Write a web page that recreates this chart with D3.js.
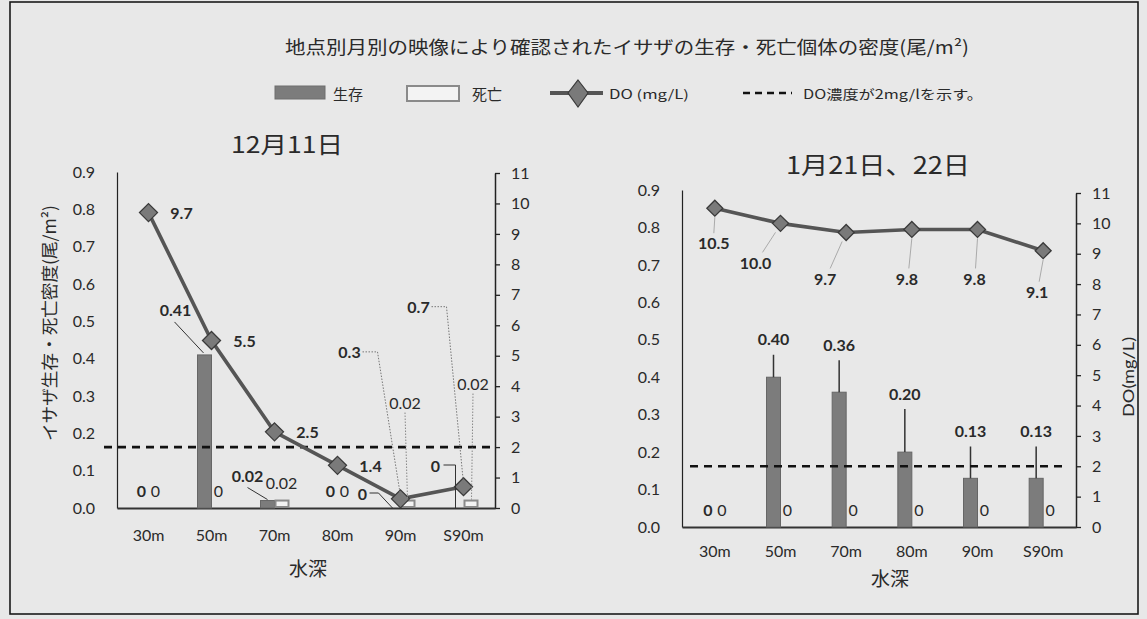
<!DOCTYPE html>
<html><head><meta charset="utf-8">
<script src="https://cdn.jsdelivr.net/npm/d3@7"></script>
<style>
html,body{margin:0;padding:0;background:#e8e8e8;}
svg{display:block;}
text{font-family:Lato,"Noto Sans CJK JP",sans-serif;fill:#2a2a2a;}
.jp{font-family:"Noto Sans CJK JP",sans-serif;}
</style></head><body>
<svg id="chart" width="1147" height="619"></svg>
<script>
// ---------- data ----------
const depths = ["30m","50m","70m","80m","90m","S90m"];
const decAlive = [0, 0.41, 0.02, 0, 0, 0];
const decDead  = [0, 0, 0.02, 0, 0.02, 0.02];
const decDO    = [9.7, 5.5, 2.5, 1.4, 0.3, 0.7];
const janAlive    = [0, 0.40, 0.36, 0.20, 0.13, 0.13];
const janAliveErr = [0, 0.06, 0.085, 0.115, 0.085, 0.085];
const janDead     = [0, 0, 0, 0, 0, 0];
const janDO       = [10.5, 10.0, 9.7, 9.8, 9.8, 9.1];
const densityTicks = [0,0.1,0.2,0.3,0.4,0.5,0.6,0.7,0.8,0.9];
const doTicks = [0,1,2,3,4,5,6,7,8,9,10,11];
const doThreshold = 2;
const chartTitle = "地点別月別の映像により確認されたイサザの生存・死亡個体の密度(尾/m²)";
const panelTitles = ["12月11日", "1月21日、22日"];
const legendLabels = ["生存", "死亡", "DO (mg/L)", "DO濃度が2mg/lを示す。"];
const yTitle = "イサザ生存・死亡密度(尾/m²)";
const y2Title = "DO(mg/L)";
const xTitle = "水深";

// ---------- styles ----------
const C = {
  aliveFill:"#7c7c7c", aliveStroke:"#666", deadFill:"#f3f3f3", deadStroke:"#8a8a8a",
  line:"#555", diamondFill:"#7a7a7a", diamondStroke:"#3a3a3a", axis:"#333"
};

const svg = d3.select("#chart");
svg.append("rect").attr("x",0).attr("y",0).attr("width",1147).attr("height",619).attr("fill","#e8e8e8");
svg.append("rect").attr("x",10).attr("y",2).attr("width",1128).attr("height",612)
  .attr("fill","none").attr("stroke","#1a1a1a").attr("stroke-width",1.6);

// title
svg.append("text").attr("class","jp").attr("x",627).attr("y",46).attr("text-anchor","middle")
  .attr("dominant-baseline","central").attr("font-size",18).attr("textLength",684).attr("lengthAdjust","spacingAndGlyphs")
  .text(chartTitle);

// legend
const lg = svg.append("g");
lg.append("rect").attr("x",275).attr("y",86).attr("width",50).attr("height",13).attr("fill",C.aliveFill).attr("stroke","#6e6e6e");
lg.append("text").attr("class","jp").attr("x",333).attr("y",93).attr("dominant-baseline","central").attr("font-size",15).text(legendLabels[0]);
lg.append("rect").attr("x",407).attr("y",86).attr("width",52).attr("height",15).attr("fill",C.deadFill).attr("stroke",C.deadStroke).attr("stroke-width",2);
lg.append("text").attr("class","jp").attr("x",472).attr("y",93).attr("dominant-baseline","central").attr("font-size",15).text(legendLabels[1]);
lg.append("line").attr("x1",550).attr("x2",603).attr("y1",93).attr("y2",93).attr("stroke",C.line).attr("stroke-width",4);
lg.append("path").attr("d","M578,80L588,93L578,107L568,93Z").attr("fill",C.diamondFill).attr("stroke",C.diamondStroke).attr("stroke-width",1.2);
lg.append("text").attr("class","jp").attr("x",609).attr("y",93).attr("dominant-baseline","central").attr("font-size",12.5)
  .attr("textLength",80).attr("lengthAdjust","spacingAndGlyphs").text(legendLabels[2]);
lg.append("line").attr("x1",743).attr("x2",792).attr("y1",93).attr("y2",93).attr("stroke","#111").attr("stroke-width",2.5).attr("stroke-dasharray","7,5");
lg.append("text").attr("class","jp").attr("x",803).attr("y",93).attr("dominant-baseline","central").attr("font-size",13)
  .attr("textLength",180).attr("lengthAdjust","spacingAndGlyphs").text(legendLabels[3]);

function diamond(s){ return `M0,${-s}L${s},0L0,${s}L${-s},0Z`; }

function drawPanel(cfg){
  const g = svg.append("g");
  const x = d3.scaleBand().domain(depths).range([cfg.x0, cfg.x1]);
  const y = d3.scaleLinear().domain([0,0.9]).range([cfg.yBase, cfg.yTop]);
  const y2 = d3.scaleLinear().domain([0,11]).range([cfg.yBase, cfg.y2Top]);
  const bw = 14;
  const cx = d => x(d) + x.bandwidth()/2;

  // panel title
  g.append("text").attr("class","jp").attr("x",cfg.titleX).attr("y",cfg.titleY).attr("text-anchor","middle")
    .attr("dominant-baseline","central").attr("font-size",cfg.titleSize)
    .attr("textLength",cfg.titleLen).attr("lengthAdjust","spacingAndGlyphs").text(cfg.title);

  // left axis
  const ax = g.append("g").attr("transform",`translate(${cfg.x0},0)`)
    .call(d3.axisLeft(y).tickValues(densityTicks).tickFormat(d3.format(".1f")).tickSize(0).tickPadding(22));
  ax.select(".domain").attr("stroke","#222").attr("stroke-width",1.2);
  ax.selectAll("text").attr("font-size",16).attr("fill","#2a2a2a").style("font-family","Lato");

  // right axis
  const ax2 = g.append("g").attr("transform",`translate(${cfg.x1},0)`)
    .call(d3.axisRight(y2).tickValues(doTicks).tickFormat(d3.format("d")).tickSize(5).tickSizeOuter(0).tickPadding(11));
  ax2.select(".domain").attr("stroke","#222").attr("stroke-width",1.5);
  ax2.selectAll("line").attr("stroke","#222").attr("stroke-width",1.3);
  ax2.selectAll("text").attr("font-size",16).attr("fill","#2a2a2a").style("font-family","Lato");

  // bottom axis
  const axb = g.append("g").attr("transform",`translate(0,${cfg.yBase})`)
    .call(d3.axisBottom(x).tickSize(0).tickPadding(cfg.xPad));
  axb.select(".domain").attr("stroke","#333").attr("stroke-width",1.8);
  axb.selectAll("text").attr("font-size",16).attr("fill","#2a2a2a").style("font-family","Lato");

  // x title
  g.append("text").attr("class","jp").attr("x",cfg.xTitleX).attr("y",cfg.xTitleY).attr("text-anchor","middle")
    .attr("dominant-baseline","central").attr("font-size",19).attr("fill","#333").text(xTitle);

  // bars
  const aliveData = cfg.alive.map((v,i)=>({d:depths[i],v,i}));
  const deadData = cfg.dead.map((v,i)=>({d:depths[i],v,i}));
  g.selectAll(".alive").data(aliveData.filter(o=>o.v>0)).join("rect")
    .attr("x",o=>cx(o.d)-bw).attr("width",bw)
    .attr("y",o=>y(o.v)).attr("height",o=>cfg.yBase-y(o.v))
    .attr("fill",C.aliveFill).attr("stroke",C.aliveStroke).attr("stroke-width",1);
  g.selectAll(".dead").data(deadData.filter(o=>o.v>0)).join("rect")
    .attr("x",o=>cx(o.d)+1).attr("width",bw-1)
    .attr("y",o=>y(o.v)).attr("height",o=>cfg.yBase-y(o.v)-1)
    .attr("fill",C.deadFill).attr("stroke",C.deadStroke).attr("stroke-width",2);

  // error bars
  if (cfg.err){
    g.selectAll(".err").data(aliveData.filter(o=>cfg.err[o.i]>0)).join("line")
      .attr("x1",o=>cx(o.d)-bw/2).attr("x2",o=>cx(o.d)-bw/2)
      .attr("y1",o=>y(o.v)).attr("y2",o=>y(o.v+cfg.err[o.i]))
      .attr("stroke","#333").attr("stroke-width",1.5);
  }

  // threshold dashed line
  g.append("line").attr("x1",cfg.dashX[0]).attr("x2",cfg.dashX[1])
    .attr("y1",y2(doThreshold)).attr("y2",y2(doThreshold))
    .attr("stroke","#111").attr("stroke-width",2.6).attr("stroke-dasharray","8,6");

  // DO line
  const doData = cfg.doVals.map((v,i)=>({d:depths[i],v,i}));
  g.append("path").datum(doData)
    .attr("d",d3.line().x(o=>cx(o.d)).y(o=>y2(o.v)))
    .attr("fill","none").attr("stroke",C.line).attr("stroke-width",3.6);
  g.selectAll(".dia").data(doData).join("path")
    .attr("transform",o=>`translate(${cx(o.d)},${y2(o.v)})`)
    .attr("d",diamond(cfg.diaSize))
    .attr("fill",C.diamondFill).attr("stroke",C.diamondStroke).attr("stroke-width",1.3);

  // labels helper
  function label(ax_, ay_, spec, def, txt, style){
    const s = spec || def;
    const lx = ax_ + s.dx, ly = ay_ + s.dy;
    if (s.leader){
      g.append("path").attr("d", d3.line()(s.leader.map(p=>[ax_+p[0], ay_+p[1]])))
        .attr("fill","none").attr("stroke",style.leaderColor).attr("stroke-width",style.leaderWidth)
        .attr("stroke-dasharray",style.leaderDash||null);
    }
    g.append("text").attr("x",lx).attr("y",ly).attr("text-anchor","middle").attr("dominant-baseline","central")
      .attr("font-size",style.size).attr("font-weight",style.weight).attr("fill",style.color).text(txt);
  }

  const aliveStyle = {size:16,weight:"bold",color:"#222",leaderColor:"#333",leaderWidth:1};
  const deadStyle = {size:16,weight:"normal",color:"#8a8a8a",leaderColor:"#888",leaderWidth:1,leaderDash:"1.5,1.5"};
  const doStyle = {size:16,weight:"bold",color:"#222",leaderColor:cfg.doLeaderColor,leaderWidth:1,leaderDash:cfg.doLeaderDash};

  aliveData.forEach(o=>{
    const top = cfg.err ? y(o.v + cfg.err[o.i]) : y(o.v);
    const def = (cfg.err && o.v>0) ? {dx:0,dy:-16} : {dx:0,dy:-18};
    label(cx(o.d)-bw/2, top, cfg.aliveLayout[o.i], def, cfg.fmtAlive(o.v), aliveStyle);
  });
  deadData.forEach(o=>{
    label(cx(o.d)+bw/2, y(o.v), cfg.deadLayout[o.i], {dx:0,dy:-18}, cfg.fmtDead(o.v), deadStyle);
  });
  doData.forEach(o=>{
    label(cx(o.d), y2(o.v), cfg.doLayout[o.i], cfg.doDefault, d3.format(".1f")(o.v), doStyle);
  });
}

const fmtGeneral = v => v===0 ? "0" : String(v);
const fmt2 = v => v===0 ? "0" : d3.format(".2f")(v);

drawPanel({
  x0:117, x1:495, yBase:508, yTop:172, y2Top:173, xPad:22,
  title:panelTitles[0], titleX:287, titleY:143, titleSize:23, titleLen:112,
  xTitleX:308, xTitleY:567,
  alive:decAlive, dead:decDead, doVals:decDO, err:null,
  dashX:[104,492], diaSize:9,
  fmtAlive:fmtGeneral, fmtDead:fmtGeneral,
  doDefault:{dx:33,dy:0}, doLeaderColor:"#777", doLeaderDash:"1.5,1.5",
  aliveLayout:[null,
    {dx:-29,dy:-45,leader:[[-30,-33],[-1,-2]]},
    {dx:-20,dy:-25,leader:[[-20,-13],[0,-1]]},
    null,
    {dx:-31,dy:-15,leader:[[-24,-15],[-15,-15],[-1,0]]},
    {dx:-21,dy:-43,leader:[[-13,-43],[-1,-43],[-1,0]]}],
  deadLayout:[null,null,null,null,
    {dx:-2.5,dy:-98,leader:[[-2.5,-88],[0,-1]]},
    {dx:2.5,dy:-117,leader:[[2.5,-107],[1,-1]]}],
  doLayout:[null,null,null,null,
    {dx:-51,dy:-147,leader:[[-38,-147],[-23,-147],[0,-3]]},
    {dx:-45,dy:-180,leader:[[-32,-180],[-17,-180],[0,-3]]}]
});

drawPanel({
  x0:682, x1:1076, yBase:527, yTop:190, y2Top:193, xPad:19,
  title:panelTitles[1], titleX:878, titleY:163, titleSize:24, titleLen:184,
  xTitleX:890, xTitleY:577,
  alive:janAlive, dead:janDead, doVals:janDO, err:janAliveErr,
  dashX:[690,1067], diaSize:8,
  fmtAlive:fmt2, fmtDead:fmtGeneral,
  doDefault:{dx:0,dy:40}, doLeaderColor:"#aaa", doLeaderDash:null,
  aliveLayout:[null,null,null,null,null,null],
  deadLayout:[null,null,null,null,null,null],
  doLayout:[
    {dx:-1,dy:34,leader:[[0,9],[-1,25]]},
    {dx:-25,dy:39,leader:[[-5,9],[-18,29]]},
    {dx:-21,dy:46,leader:[[-4,9],[-16,36]]},
    {dx:-5,dy:49,leader:[[0,9],[-3,39]]},
    {dx:-3,dy:49,leader:[[0,9],[-2,39]]},
    {dx:-6,dy:41,leader:[[0,9],[-4,31]]}]
});

// axis titles
svg.append("text").attr("class","jp").attr("transform","translate(48,323) rotate(-90)")
  .attr("text-anchor","middle").attr("dominant-baseline","central").attr("font-size",17)
  .attr("textLength",236).attr("lengthAdjust","spacingAndGlyphs").attr("fill","#2a2a2a").text(yTitle);
svg.append("text").attr("transform","translate(1127,377) rotate(-90)")
  .attr("text-anchor","middle").attr("dominant-baseline","central").attr("font-size",16)
  .attr("textLength",80).attr("lengthAdjust","spacingAndGlyphs").attr("fill","#2a2a2a").text(y2Title);
</script>
</body></html>
